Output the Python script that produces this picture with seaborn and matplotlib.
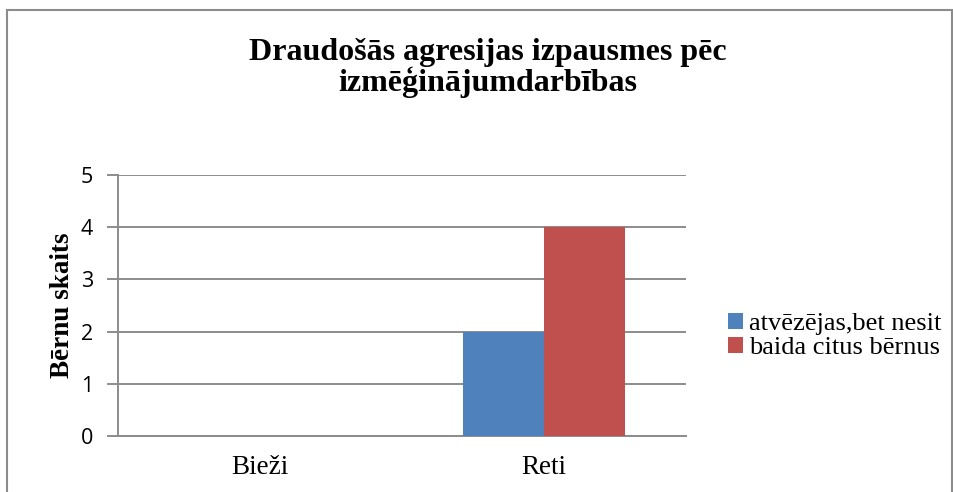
import pandas as pd
import seaborn as sns
import matplotlib.pyplot as plt
from matplotlib.patches import Rectangle

# data
categories = ["Bieži", "Reti"]
series_names = ["atvēzējas,bet nesit", "baida citus bērnus"]
values_a = [0, 2]
values_b = [0, 4]
y_ticks = [0, 1, 2, 3, 4, 5]

df = pd.DataFrame({
    "kategorija": categories * 2,
    "grupa": [series_names[0]] * 2 + [series_names[1]] * 2,
    "skaits": values_a + values_b,
})

sns.set_theme(style="white")
plt.rcParams["font.family"] = ["Liberation Serif", "DejaVu Serif"]
plt.rcParams["text.color"] = "black"
plt.rcParams["axes.labelcolor"] = "black"
plt.rcParams["xtick.color"] = "black"
plt.rcParams["ytick.color"] = "black"

fig = plt.figure(figsize=(9.54, 4.92), dpi=100)
ax = fig.add_axes([118 / 954, 56 / 492, 568 / 954, 261 / 492])

sns.barplot(data=df, x="kategorija", y="skaits", hue="grupa",
            palette=["#4F81BD", "#C0504D"], width=0.57, saturation=1,
            linewidth=0, ax=ax, zorder=3)

ax.set_xlim(-0.5, 1.5)
ax.set_ylim(0, 5)
ax.set_yticks(y_ticks, labels=[str(v) for v in y_ticks],
              fontsize=15.5, fontfamily="Open Sans", color="black")
ax.yaxis.grid(True, color="#8c8c8c", linewidth=1.4, zorder=0)
ax.set_axisbelow(True)

for s in ["top", "right"]:
    ax.spines[s].set_visible(False)
for s in ["left", "bottom"]:
    ax.spines[s].set_color("#8c8c8c")
    ax.spines[s].set_linewidth(1.4)

ax.tick_params(axis="y", length=8, width=1.4, color="#8c8c8c", left=True,
               pad=10)
ax.tick_params(axis="x", length=0, pad=14, labelsize=19.5, labelcolor="black")

ax.set_xlabel("")
ax.set_ylabel("Bērnu skaits", fontsize=19.5, fontweight="bold", labelpad=4)

leg = ax.legend(loc="center left", bbox_to_anchor=(728 / 954, 1 - 336 / 492),
                bbox_transform=fig.transFigure, frameon=False,
                borderaxespad=0, borderpad=0,
                fontsize=19, handlelength=0.55, handleheight=0.55,
                handletextpad=0.25, labelspacing=0.05)
for t in leg.get_texts():
    t.set_color("black")

fig.text(488 / 954, 1 - 68 / 492,
         "Draudošās agresijas izpausmes pēc\nizmēģinājumdarbības",
         ha="center", va="center", fontsize=23, fontweight="bold",
         linespacing=1.0)

fig.patches.append(Rectangle((7 / 954, -0.1), 945 / 954, (482 / 492) + 0.1,
                             transform=fig.transFigure, fill=False,
                             edgecolor="#8c8c8c", linewidth=1.5))

fig.savefig("out.png", dpi=100)
